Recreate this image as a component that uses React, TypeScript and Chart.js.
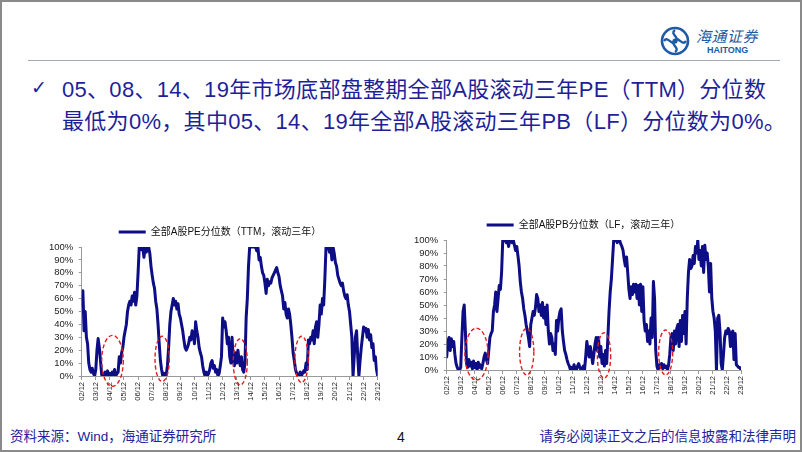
import React, { useEffect, useRef } from 'react';
import { Chart, registerables } from 'chart.js';

Chart.register(...registerables);

// ---------- data ----------
const yearTicks = ['02/12', '03/12', '04/12', '05/12', '06/12', '07/12', '08/12', '09/12', '10/12', '11/12', '12/12',
  '13/12', '14/12', '15/12', '16/12', '17/12', '18/12', '19/12', '20/12', '21/12', '22/12', '23/12'];
const yTickLabels = ['0%', '10%', '20%', '30%', '40%', '50%', '60%', '70%', '80%', '90%', '100%'];

const peSeriesLabel = '全部A股PE分位数（TTM，滚动三年）';
const pbSeriesLabel = '全部A股PB分位数（LF，滚动三年）';

// monthly values, 2002/12 .. 2023/12 (%)
const pePercentile = [
  55,
  66, 35, 50, 30, 25, 10, 5, 3, 6, 2, 0, 5,
  20, 29, 22, 12, 1, 2, 0, 3, 1, 4, 0, 2,
  0, 3, 1, 5, 0, 2, 3, 15, 10, 18, 22, 30,
  35, 40, 50, 55, 58, 55, 62, 58, 65, 55, 62, 80,
  100, 100, 98, 100, 92, 100, 96, 100, 100, 95, 85, 78,
  72, 68, 58, 52, 40, 25, 12, 5, 0, 2, 0, 1,
  8, 22, 40, 50, 55, 60, 55, 58, 52, 56, 48, 45,
  40, 35, 28, 22, 20, 22, 25, 30, 28, 35, 33, 25,
  42, 35, 30, 22, 18, 15, 8, 3, 0, 3, 0, 2,
  5, 10, 12, 6, 8, 3, 5, 0, 2, 8, 15, 45,
  38, 42, 35, 25, 30, 15, 10, 30, 12, 8, 18, 10,
  20, 12, 8, 15, 5, 3, 10, 45, 60, 85, 100, 100,
  100, 100, 100, 100, 97, 100, 90, 92, 85, 80, 78, 72,
  64, 75, 70, 73, 72, 76, 78, 80, 82, 84, 80, 77,
  70, 66, 62, 52, 57, 48, 45, 52, 48, 40, 30, 18,
  12, 5, 2, 0, 1, 3, 0, 2, 4, 3, 10, 5,
  28, 25, 30, 28, 35, 25, 38, 42, 30, 40, 55, 48,
  60, 55, 75, 100, 100, 100, 96, 100, 90, 100, 95, 88,
  85, 78, 75, 72, 70, 72, 66, 62, 60, 63, 55, 50,
  40, 30, 0, 15, 30, 35, 15, 0, 12, 22, 30, 38,
  35, 37, 30, 36, 28, 32, 22, 25, 12, 15, 5, 0,
];

const pbPercentile = [
  10,
  22, 25, 15, 24, 18, 22, 12, 5, 2, 0, 0, 2,
  25, 45, 50, 30, 5, 2, 8, 3, 6, 1, 7, 2,
  5, 0, 6, 2, 4, 1, 5, 10, 13, 8, 5, 15,
  25, 28, 30, 45, 50, 60, 45, 55, 65, 62, 75, 100,
  100, 100, 98, 100, 95, 100, 100, 98, 100, 96, 92, 95,
  88, 80, 68, 60, 55, 47, 42, 35, 30, 25, 18, 35,
  40, 45, 42, 48, 58, 55, 45, 50, 42, 52, 40, 48,
  35, 50, 30, 20, 28, 25, 15, 20, 12, 38, 30, 40,
  45, 47, 30, 22, 15, 12, 8, 5, 3, 0, 2, 0,
  4, 1, 0, 3, 5, 2, 0, 1, 3, 0, 10, 22,
  15, 10, 18, 12, 5, 12, 20, 25, 15, 25, 10, 18,
  5, 12, 3, 15, 5, 25, 45, 60, 70, 85, 100, 100,
  100, 98, 100, 100, 97, 95, 92, 85, 80, 87, 75, 62,
  55, 64, 58, 66, 60, 66, 55, 65, 50, 66, 45, 64,
  38, 30, 35, 22, 30, 20, 40, 25, 68, 55, 15, 3,
  0, 4, 2, 5, 1, 4, 2, 3, 0, 4, 12, 25,
  28, 15, 30, 20, 32, 35, 18, 38, 22, 42, 28, 45,
  20, 55, 75, 85, 78, 80, 88, 82, 95, 90, 100, 85,
  92, 80, 95, 75, 96, 85, 90, 80, 60, 82, 55, 45,
  40, 30, 0, 40, 42, 30, 5, 0, 12, 25, 30, 28,
  32, 30, 18, 28, 30, 8, 28, 4, 3, 2, 2, 0,
];

// circled market-bottom periods (month index from 02/12, value range %)
const peBottoms = [
  { from: 17, to: 35.4, low: -8, high: 31.5 },
  { from: 62.4, to: 74.6, low: -4.2, high: 30.8 },
  { from: 129, to: 141, low: -6.9, high: 28.9 },
  { from: 181.5, to: 192.9, low: -5, high: 30.8 },
];
const pbBottoms = [
  { from: 15.6, to: 35.4, low: -7.7, high: 32.1 },
  { from: 62.4, to: 74.6, low: -3.8, high: 32 },
  { from: 129, to: 140.4, low: -6.3, high: 28.7 },
  { from: 181.5, to: 193.5, low: -3.8, high: 30.8 },
];

// ---------- styling ----------
const FONT = "'Liberation Sans', Arial, 'Noto Sans CJK SC', sans-serif";
const NAVY = '#0d0d85';
const TEXT_BLUE = '#1f1f9a';
const AXIS = '#9a9a9a';

function makeBottomsPlugin(periods: any[]) {
  return {
    id: 'bottomEllipses',
    afterDatasetsDraw(chart: any) {
      const { ctx } = chart;
      const x = chart.scales.x;
      const y = chart.scales.y;
      ctx.save();
      ctx.strokeStyle = '#e31b1b';
      ctx.lineWidth = 1.4;
      ctx.setLineDash([4, 2.5]);
      for (const p of periods) {
        const x1 = x.getPixelForValue(p.from);
        const x2 = x.getPixelForValue(p.to);
        const y1 = y.getPixelForValue(p.low);
        const y2 = y.getPixelForValue(p.high);
        ctx.beginPath();
        ctx.ellipse((x1 + x2) / 2, (y1 + y2) / 2, Math.abs(x2 - x1) / 2, Math.abs(y1 - y2) / 2, 0, 0, Math.PI * 2);
        ctx.stroke();
      }
      ctx.restore();
    },
  };
}

function makeLegendShiftPlugin(center: number) {
  return {
    id: 'legendShift',
    afterLayout(chart: any) {
      const lg = chart.legend;
      if (!lg) return;
      const dx = center - (lg.left + lg.right) / 2;
      lg.left += dx;
      lg.right += dx;
    },
  };
}

type Box = { x: number; y: number; w: number; h: number };

function PercentChart(props: {
  box: Box;
  pad: any;
  yAxisWidth: number;
  legendCenter: number;
  label: string;
  values: number[];
  periods: any[];
}) {
  const { box, pad, yAxisWidth, legendCenter, label, values, periods } = props;
  const ref = useRef<HTMLCanvasElement | null>(null);
  useEffect(() => {
    if (!ref.current) return;
    const chart = new Chart(ref.current, {
      type: 'line',
      data: {
        datasets: [
          {
            label,
            data: values.map((v, i) => ({ x: i, y: v })),
            borderColor: NAVY,
            backgroundColor: NAVY,
            borderWidth: 3,
            pointRadius: 0,
            tension: 0,
            borderJoinStyle: 'round',
            borderCapStyle: 'round',
          } as any,
        ],
      },
      options: {
        animation: false,
        responsive: false,
        maintainAspectRatio: false,
        devicePixelRatio: 1,
        layout: { padding: pad },
        events: [],
        plugins: {
          legend: {
            display: true,
            position: 'top',
            labels: {
              usePointStyle: true,
              pointStyle: 'line',
              pointStyleWidth: 27,
              padding: 6,
              color: '#111',
              font: { size: 10, family: FONT },
            },
          },
          tooltip: { enabled: false },
        },
        scales: {
          x: {
            type: 'linear',
            min: 0,
            max: (yearTicks.length - 1) * 12,
            afterBuildTicks: (s: any) => {
              s.ticks = yearTicks.map((_, i) => ({ value: i * 12 }));
            },
            afterFit: (s: any) => {
              s.height = 25;
            },
            ticks: {
              autoSkip: false,
              minRotation: 90,
              maxRotation: 90,
              padding: 2,
              color: '#222',
              font: { size: 7.5, family: FONT },
              callback: (_v: any, i: number) => yearTicks[i],
            },
            grid: { drawOnChartArea: false, drawTicks: true, tickLength: 4, color: AXIS },
            border: { display: true, color: AXIS },
          },
          y: {
            min: 0,
            max: 100,
            afterBuildTicks: (s: any) => {
              s.ticks = yTickLabels.map((_, i) => ({ value: i * 10 }));
            },
            afterFit: (s: any) => {
              s.width = yAxisWidth;
            },
            ticks: {
              autoSkip: false,
              padding: 5.5,
              color: '#222',
              font: { size: 9.5, family: FONT },
              callback: (_v: any, i: number) => yTickLabels[i],
            },
            grid: { drawOnChartArea: false, drawTicks: true, tickLength: 3, color: AXIS },
            border: { display: true, color: AXIS },
          },
        },
      } as any,
      plugins: [makeLegendShiftPlugin(legendCenter), makeBottomsPlugin(periods)],
    });
    return () => chart.destroy();
  }, []);
  return (
    <canvas
      ref={ref}
      width={box.w}
      height={box.h}
      style={{ position: 'absolute', left: box.x, top: box.y, width: box.w, height: box.h, display: 'block' }}
    />
  );
}

function Logo() {
  return (
    <div style={{ position: 'absolute', left: 658, top: 24 }}>
      <svg width="30" height="30" viewBox="0 0 30 30" style={{ position: 'absolute', left: 2, top: 2 }}>
        <circle cx="15" cy="15" r="13" fill="none" stroke="#1f5aa6" strokeWidth="2.6" />
        <path d="M15 4 C9 8, 21 12, 15 15 C9 18, 21 22, 15 26" fill="none" stroke="#1f5aa6" strokeWidth="2.4" />
        <path d="M4 15 C8 9, 12 21, 15 15 C18 9, 22 21, 26 15" fill="none" stroke="#1f5aa6" strokeWidth="2.4" />
        <circle cx="15" cy="15" r="2.6" fill="#1f5aa6" />
      </svg>
      <div
        style={{
          position: 'absolute',
          left: 38,
          top: 4,
          fontFamily: "'Noto Sans CJK SC', sans-serif",
          fontSize: 15,
          fontStyle: 'italic',
          color: '#1f5aa6',
          whiteSpace: 'nowrap',
          lineHeight: '16px',
          letterSpacing: 0.5,
        }}
      >
        海通证券
      </div>
      <div
        style={{
          position: 'absolute',
          left: 49,
          top: 21,
          fontFamily: FONT,
          fontSize: 9,
          fontWeight: 'bold',
          color: '#1f5aa6',
          whiteSpace: 'nowrap',
          lineHeight: '10px',
        }}
      >
        HAITONG
      </div>
    </div>
  );
}

export default function App() {
  return (
    <div
      style={{
        position: 'absolute',
        left: 0,
        top: 0,
        width: 802,
        height: 452,
        background: '#ffffff',
        overflow: 'hidden',
        fontFamily: FONT,
      }}
    >
      <Logo />
      <div style={{ position: 'absolute', left: 28, top: 60, width: 752, height: 1, background: '#a3abbb' }} />

      <div
        style={{
          position: 'absolute',
          left: 31,
          top: 74,
          fontFamily: "'DejaVu Sans', sans-serif",
          fontSize: 19,
          fontWeight: 'bold',
          lineHeight: '26px',
          color: TEXT_BLUE,
        }}
      >
        ✓
      </div>
      <div
        style={{
          position: 'absolute',
          left: 62,
          top: 73.5,
          fontFamily: FONT,
          fontSize: 22,
          lineHeight: '32.5px',
          letterSpacing: 0.3,
          color: TEXT_BLUE,
          whiteSpace: 'nowrap',
        }}
      >
        05、08、14、19年市场底部盘整期全部A股滚动三年PE（TTM）分位数
        <br />
        最低为0%，其中05、14、19年全部A股滚动三年PB（LF）分位数为0%。
      </div>

      <PercentChart
        box={{ x: 40, y: 215, w: 350, h: 186 }}
        pad={{ left: 5.7, right: 12.3, top: 6, bottom: 0 }}
        yAxisWidth={36}
        legendCenter={180}
        label={peSeriesLabel}
        values={pePercentile}
        periods={peBottoms}
      />
      <PercentChart
        box={{ x: 405, y: 205, w: 347, h: 190 }}
        pad={{ left: 5.7, right: 9.3, top: 9, bottom: 0 }}
        yAxisWidth={36}
        legendCenter={178.5}
        label={pbSeriesLabel}
        values={pbPercentile}
        periods={pbBottoms}
      />

      <div
        style={{
          position: 'absolute',
          left: 10,
          top: 428,
          fontSize: 13.5,
          lineHeight: '18px',
          color: '#23239a',
          whiteSpace: 'nowrap',
        }}
      >
        资料来源：Wind，海通证券研究所
      </div>
      <div
        style={{
          position: 'absolute',
          left: 397,
          top: 428,
          fontSize: 14,
          lineHeight: '18px',
          color: '#111',
        }}
      >
        4
      </div>
      <div
        style={{
          position: 'absolute',
          right: 6,
          top: 428,
          fontSize: 13.5,
          lineHeight: '18px',
          color: '#23239a',
          whiteSpace: 'nowrap',
        }}
      >
        请务必阅读正文之后的信息披露和法律声明
      </div>

      <div
        style={{
          position: 'absolute',
          left: 0,
          top: 0,
          width: 802,
          height: 452,
          boxSizing: 'border-box',
          border: '2px solid #8a8a8a',
          pointerEvents: 'none',
        }}
      />
    </div>
  );
}
